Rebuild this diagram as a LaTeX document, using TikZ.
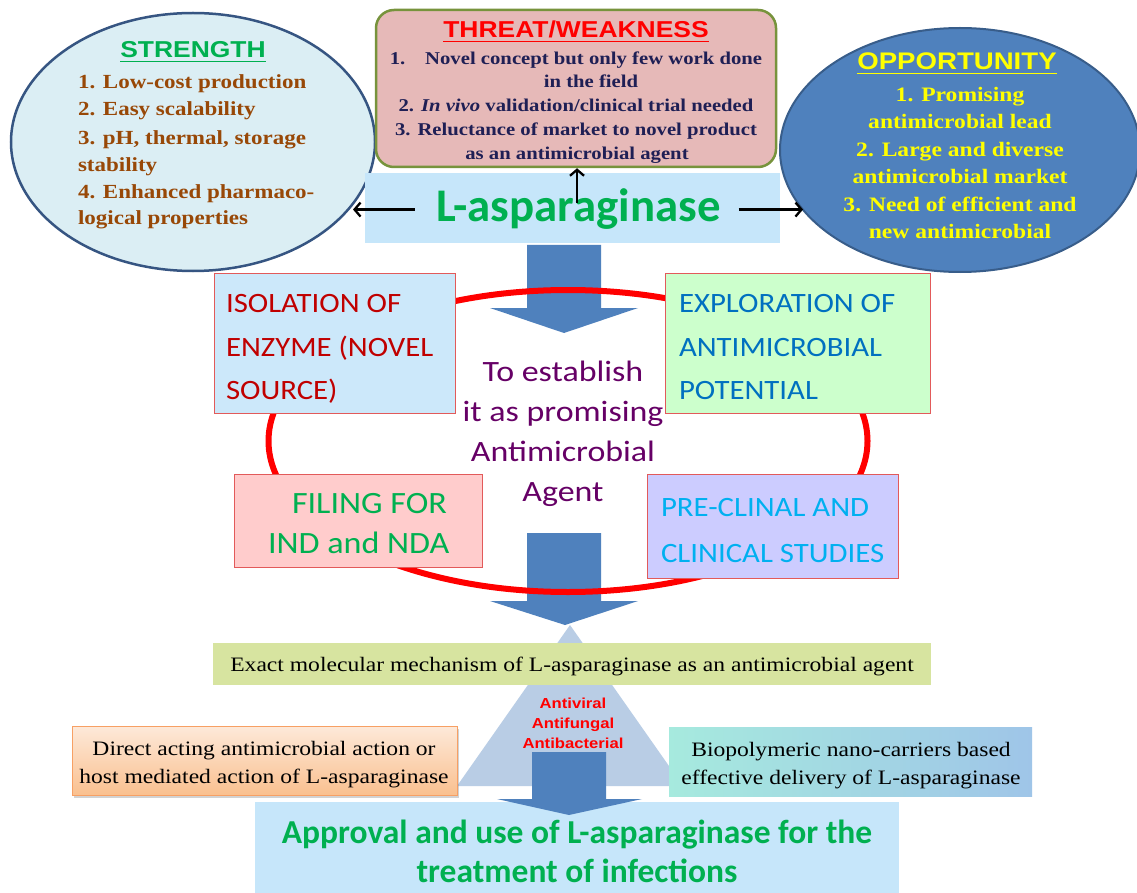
\documentclass[tikz,border=0pt]{standalone}
\usepackage{fontspec}
\setmainfont{Liberation Serif}
\newfontfamily\tmsS[FakeStretch=1.15]{Liberation Serif}
\newfontfamily\arS[FakeStretch=1.15]{Liberation Sans}
\newfontfamily\calF{Carlito}
\newfontfamily\calS[FakeStretch=1.1]{Carlito}
\newfontfamily\calW[FakeStretch=1.15]{Carlito}
\usetikzlibrary{shapes.geometric,arrows.meta,shadows}
\definecolor{strfill}{RGB}{219,238,244}
\definecolor{strline}{RGB}{54,85,130}
\definecolor{brownT}{RGB}{152,72,7}
\definecolor{greenT}{RGB}{0,176,80}
\definecolor{thrfill}{RGB}{230,185,184}
\definecolor{thrline}{RGB}{119,147,60}
\definecolor{navyT}{RGB}{31,31,85}
\definecolor{oppfill}{RGB}{79,129,189}
\definecolor{oppline}{RGB}{56,93,138}
\definecolor{yelT}{RGB}{255,255,0}
\definecolor{lbox}{RGB}{198,230,250}
\definecolor{barrow}{RGB}{79,129,189}
\definecolor{isoF}{RGB}{204,232,250}
\definecolor{expF}{RGB}{204,255,204}
\definecolor{filF}{RGB}{255,204,204}
\definecolor{preF}{RGB}{204,204,255}
\definecolor{boxline}{RGB}{226,90,90}
\definecolor{darkredT}{RGB}{192,0,0}
\definecolor{blueT}{RGB}{0,112,192}
\definecolor{purpT}{RGB}{102,0,102}
\definecolor{cyanT}{RGB}{0,176,240}
\definecolor{redT}{RGB}{255,0,0}
\definecolor{triF}{RGB}{185,205,229}
\definecolor{exactF}{RGB}{215,228,160}
\definecolor{orTop}{RGB}{253,233,217}
\definecolor{orBot}{RGB}{250,192,143}
\definecolor{orLine}{RGB}{247,160,100}
\definecolor{bioL}{RGB}{166,234,222}
\definecolor{bioR}{RGB}{159,197,232}
\tikzset{
  lbl/.style={inner sep=0pt, outer sep=0pt},
  strtxt/.style={lbl, anchor=base west, text=brownT, font=\tmsS\bfseries\fontsize{20}{24}\selectfont},
  thrtxt/.style={lbl, anchor=base, text=navyT, font=\tmsS\bfseries\fontsize{18}{22}\selectfont},
  opptxt/.style={lbl, anchor=base, text=yelT, font=\tmsS\bfseries\fontsize{20.5}{24}\selectfont},
  ttl/.style={lbl, anchor=base, font=\arS\bfseries\fontsize{23}{27}\selectfont},
  uline/.style={line width=1.8pt},
  midtxt/.style={lbl, anchor=base west, font=\calS\fontsize{28}{32}\selectfont},
  filtxt/.style={lbl, anchor=base west, font=\calS\fontsize{31}{34}\selectfont},
  cenTxt/.style={lbl, anchor=base, text=purpT, font=\calW\fontsize{29.5}{32}\selectfont},
  stagebox/.style={draw=boxline, line width=0.8pt, inner sep=0pt},
  antitxt/.style={lbl, anchor=base, text=redT, font=\arS\bfseries\fontsize{14.5}{17}\selectfont},
  rmtxt/.style={lbl, anchor=base, text=black, font=\tmsS\fontsize{20.5}{24}\selectfont},
  apptxt/.style={lbl, anchor=base, text=greenT, font=\calF\bfseries\fontsize{33.5}{36}\selectfont},
  blockarrow/.style={fill=barrow, draw=none},
  thinarrow/.style={line width=2.3pt, -{Straight Barb[length=6pt,width=14pt]}},
}
\begin{document}
\begin{tikzpicture}[x=1pt,y=-1pt]
\useasboundingbox (0,0) rectangle (1137,893);
\fill[white] (0,0) rectangle (1137,893);

% ---- top SWOT ----
\node[ellipse, draw=strline, line width=2.5pt, fill=strfill, minimum width=364pt, minimum height=258pt, inner sep=0pt] (strength) at (193,142) {};
\node[ellipse, draw=oppline, line width=2pt, fill=oppfill, minimum width=360pt, minimum height=244pt, inner sep=0pt] (opportunity) at (960,150) {};
\node[draw=thrline, line width=2.5pt, fill=thrfill, rounded corners=18pt, minimum width=400pt, minimum height=157pt, inner sep=0pt] (threat) at (576,88.5) {};
\node[fill=lbox, minimum width=415pt, minimum height=70pt, inner sep=0pt] (laspbox) at (572.5,208) {};

% strength text
\node[ttl, text=greenT] (strt) at (193,58) {STRENGTH};
\draw[uline, greenT] ([yshift=-3.5pt]strt.base west) -- ([yshift=-3.5pt]strt.base east);
\node[strtxt] (s1) at (78,89) {1. Low-cost production};
\node[strtxt] (s2) at (78,116) {2. Easy scalability};
\node[strtxt] (s3) at (78,145) {3. pH, thermal, storage};
\node[strtxt] (s4) at (78,172) {stability};
\node[strtxt] (s5) at (78,199) {4. Enhanced pharmaco-};
\node[strtxt] (s6) at (78,225) {logical properties};

% threat text
\node[ttl, text=redT] (thrt) at (576,38) {THREAT/WEAKNESS};
\draw[uline, redT] ([yshift=-3.5pt]thrt.base west) -- ([yshift=-3.5pt]thrt.base east);
\node[thrtxt] (t1) at (576,65) {1.\hspace{1.1em}Novel concept but only few work done};
\node[thrtxt] (t2) at (591,88) {in the field};
\node[thrtxt] (t3) at (576,112) {2. \textit{In vivo} validation/clinical trial needed};
\node[thrtxt] (t4) at (576,136) {3. Reluctance of market to novel product};
\node[thrtxt] (t5) at (577,160) {as an antimicrobial agent};

% opportunity text
\node[ttl, text=yelT, font=\arS\bfseries\fontsize{24}{28}\selectfont] (oppt) at (957,70) {OPPORTUNITY};
\draw[uline, yelT] ([yshift=-3.5pt]oppt.base west) -- ([yshift=-3.5pt]oppt.base east);
\node[opptxt] (o1) at (960,102) {1. Promising};
\node[opptxt] (o2) at (960,129) {antimicrobial lead};
\node[opptxt] (o3) at (960,157) {2. Large and diverse};
\node[opptxt] (o4) at (960,184) {antimicrobial market};
\node[opptxt] (o5) at (960,212) {3. Need of efficient and};
\node[opptxt] (o6) at (960,239) {new antimicrobial};

% L-asparaginase
\node[lbl, anchor=base, text=greenT, font=\calF\bfseries\fontsize{46.8}{50}\selectfont] (laspt) at (578.5,222) {L-asparaginase};
\coordinate (lt) at (353,212);
\coordinate (rt) at (803,212);
\coordinate (ua) at (577,203);
\draw[thinarrow, shorten <=22pt] (laspt.west) -- (laspt.west -| lt);
\draw[thinarrow, shorten <=18pt] (laspt.east) -- (laspt.east -| rt);
\draw[thinarrow] (ua) -- (ua |- threat.south);

% ---- middle cycle ----
\fill[blockarrow] (527,245) -- (601,245) -- (601,308) -- (638,308) -- (564,333) -- (490,308) -- (527,308) -- cycle;
\fill[blockarrow] (527,533) -- (601,533) -- (601,601) -- (638,601) -- (565,625) -- (490,601) -- (527,601) -- cycle;
\node[ellipse, draw=redT, line width=6pt, minimum width=599pt, minimum height=302pt, inner sep=0pt] (cycle) at (568,441) {};

\node[stagebox, fill=isoF, minimum width=241pt, minimum height=140pt] (iso) at (334.5,343) {};
\node[stagebox, fill=expF, minimum width=265pt, minimum height=140pt] (exp) at (797.5,343) {};
\node[stagebox, fill=filF, minimum width=248pt, minimum height=93pt] (fil) at (358,520.5) {};
\node[stagebox, fill=preF, minimum width=251pt, minimum height=104pt] (pre) at (772.5,526) {};

\node[midtxt, text=darkredT] (i1) at (226,312) {ISOLATION OF};
\node[midtxt, text=darkredT] (i2) at (226,356) {ENZYME (NOVEL};
\node[midtxt, text=darkredT] (i3) at (226,399) {SOURCE)};
\node[midtxt, text=blueT] (e1) at (679,312) {EXPLORATION OF};
\node[midtxt, text=blueT] (e2) at (679,356) {ANTIMICROBIAL};
\node[midtxt, text=blueT] (e3) at (679,399) {POTENTIAL};
\node[filtxt, text=greenT] (f1) at (292,513) {FILING FOR};
\node[filtxt, text=greenT] (f2) at (268,553) {IND and NDA};
\node[midtxt, text=cyanT] (p1) at (661,516) {PRE-CLINAL AND};
\node[midtxt, text=cyanT] (p2) at (661,562) {CLINICAL STUDIES};

\node[cenTxt] (c1) at (563,381) {To establish};
\node[cenTxt] (c2) at (563,421) {it as promising};
\node[cenTxt] (c3) at (563,461) {Antimicrobial};
\node[cenTxt] (c4) at (563,501) {Agent};

% ---- bottom ----
\fill[triF] (570,625) -- (683,786) -- (457,786) -- cycle;
\node[fill=exactF, minimum width=718pt, minimum height=42pt, inner sep=0pt] (exact) at (572,664) {};
\node[rmtxt] (ex) at (572,671) {Exact molecular mechanism of L-asparaginase as an antimicrobial agent};

\node[antitxt] (a1) at (573,708) {Antiviral};
\node[antitxt] (a2) at (573,728) {Antifungal};
\node[antitxt] (a3) at (573,748) {Antibacterial};

\node[draw=orLine, line width=0.8pt, top color=orTop, bottom color=orBot, minimum width=385pt, minimum height=69pt, inner sep=0pt,
      drop shadow={shadow xshift=1.5pt, shadow yshift=-3pt, opacity=0.35}] (direct) at (264.5,760.5) {};
\node[rmtxt] (d1) at (264,755) {Direct acting antimicrobial action or};
\node[rmtxt] (d2) at (264,783) {host mediated action of L-asparaginase};

\node[left color=bioL, right color=bioR, minimum width=363pt, minimum height=69pt, inner sep=0pt] (bio) at (850.5,761.5) {};
\node[rmtxt] (b1) at (851,756) {Biopolymeric nano-carriers based};
\node[rmtxt] (b2) at (851,784) {effective delivery of L-asparaginase};

\node[fill=lbox, minimum width=644pt, minimum height=91pt, inner sep=0pt] (approval) at (577,847.5) {};
\fill[blockarrow] (532,752) -- (606,752) -- (606,799) -- (642,799) -- (569,815) -- (497,799) -- (532,799) -- cycle;
\node[apptxt] (ap1) at (577,843) {Approval and use of L-asparaginase for the};
\node[apptxt] (ap2) at (577,882) {treatment of infections};
\end{tikzpicture}
\end{document}
